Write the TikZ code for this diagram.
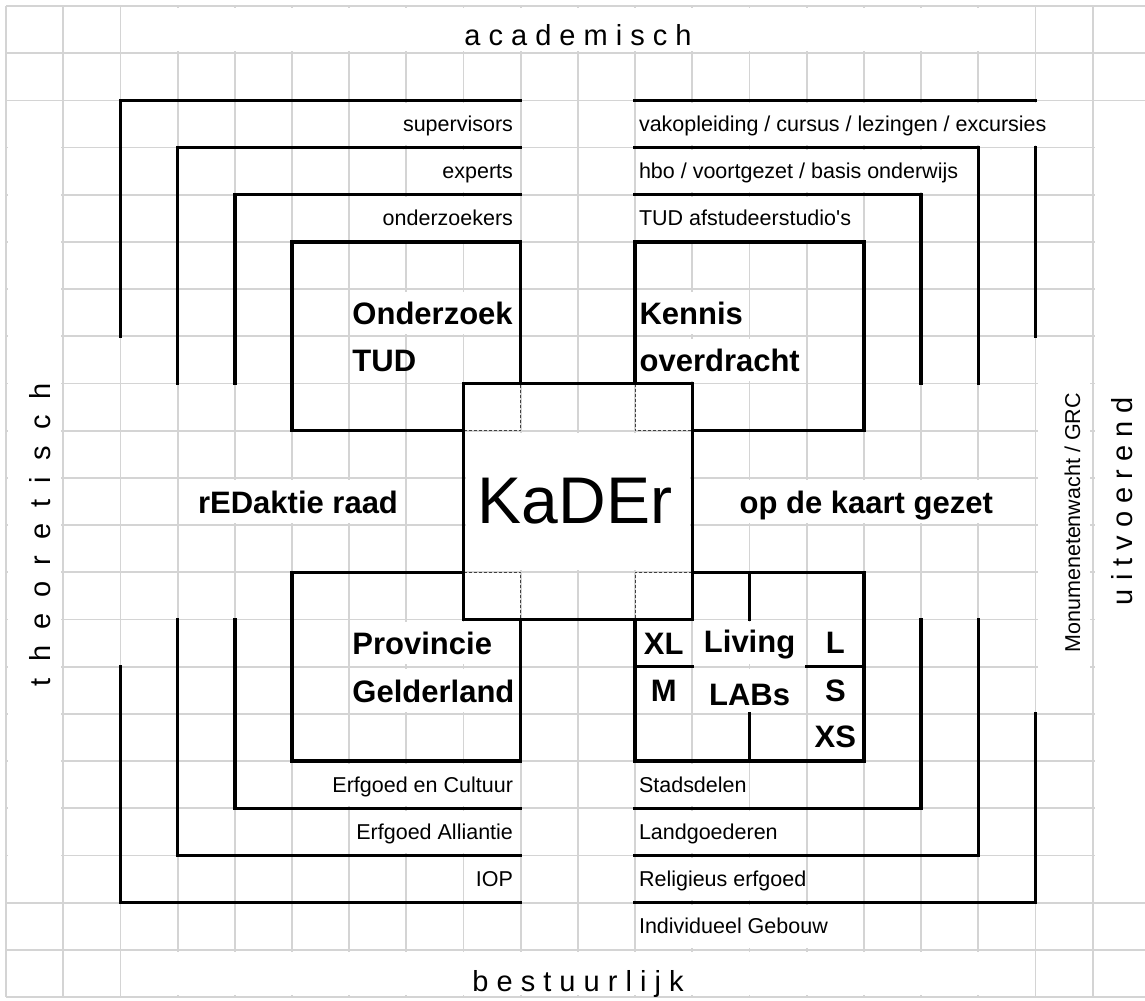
\documentclass[tikz,border=0pt]{standalone}
\usepackage{fontspec}
\setmainfont{Liberation Sans}
\definecolor{gridgray}{RGB}{212,212,212}

\begin{document}
\begin{tikzpicture}[x=28.6pt,y=-23.6pt,
  gridline/.style={gridgray,line width=0.9pt},
  border/.style={black,line width=1.7pt,line cap=rect},
  overlap/.style={black!75,line width=0.6pt,dash pattern=on 1.5pt off 1pt},
  small/.style={inner sep=0pt,font=\fontsize{10.75}{12}\selectfont},
  bold/.style={inner sep=0pt,font=\fontsize{15.5}{18}\selectfont\bfseries},
  axis/.style={inner sep=0pt,font=\fontsize{14.5}{17}\selectfont}]
\useasboundingbox (-0.105,-0.127) rectangle (19.913,21.08);
\fill [white] (-0.105,-0.127) rectangle (19.913,21.08);
\foreach \c in {0,...,20} \draw [gridline] (\c,0) -- (\c,21);
\foreach \r in {0,...,21} \draw [gridline] (0,\r) -- (20,\r);
\foreach \xa/\ya/\xb/\yb in {2/0/18/1, 2/20/18/21, 0/2/1/19, 19/2/20/19, 18/7/19/15, 8/9/12/12,
    6/2/9/3, 11/2/19/3, 7/3/9/4, 11/3/17/4, 6/4/9/5, 11/4/15/5,
    6/6/9/7, 11/6/13/7, 11/7/14/8, 3/10/7/11, 12/10/18/11,
    6/13/9/14, 12/13/14/14, 6/14/9/15, 12/14/14/15,
    5/16/9/17, 11/16/13/17, 6/17/9/18, 11/17/14/18, 11/18/14/19, 11/19/15/20}
  \fill [white] (\xa+0.04,\ya+0.05) rectangle (\xb-0.04,\yb-0.05);
\draw [border] (9,2) -- (2,2) -- (2,7);
\draw [border] (9,3) -- (3,3) -- (3,8);
\draw [border] (9,4) -- (4,4) -- (4,8);
\draw [border] (11,2) -- (18,2);
\draw [border] (18,3) -- (18,7);
\draw [border] (11,3) -- (17,3) -- (17,8);
\draw [border] (11,4) -- (16,4) -- (16,8);
\draw [border] (2,14) -- (2,19) -- (9,19);
\draw [border] (3,13) -- (3,18) -- (9,18);
\draw [border] (4,13) -- (4,17) -- (9,17);
\draw [border] (11,17) -- (16,17) -- (16,13);
\draw [border] (11,18) -- (17,18) -- (17,13);
\draw [border] (11,19) -- (18,19) -- (18,15);
\draw [border] (8,9) -- (5,9) -- (5,5) -- (9,5) -- (9,8);
\draw [overlap] (8,9) -- (9,9) -- (9,8);
\draw [border] (11,8) -- (11,5) -- (15,5) -- (15,9) -- (12,9);
\draw [overlap] (11,8) -- (11,9) -- (12,9);
\draw [border] (8,12) -- (5,12) -- (5,16) -- (9,16) -- (9,13);
\draw [overlap] (8,12) -- (9,12) -- (9,13);
\draw [border] (12,12) -- (15,12) -- (15,16) -- (11,16) -- (11,13);
\draw [overlap] (12,12) -- (11,12) -- (11,13);
\draw [border] (13,12) -- (13,13);
\draw [border] (13,15) -- (13,16);
\draw [border] (11,14) -- (12,14);
\draw [border] (14,14) -- (15,14);
\draw [border] (8,8) rectangle (12,13);
\node [inner sep=0pt,font=\fontsize{33}{40}\selectfont] (kader) at (9.95,10.5) {KaDEr};
\node [axis,anchor=base] (academisch) at (10,0.83) {a c a d e m i s c h};
\node [axis,anchor=base] (bestuurlijk) at (10,20.88) {b e s t u u r l i j k};
\node [axis,anchor=base,rotate=90] (theoretisch) at (0.77,11.2) {t\ \ h\ \ e\ \ o\ \ r\ \ e\ \ t\ \ i\ \ s\ \ c\ \ h};
\node [axis,anchor=base,rotate=90] (uitvoerend) at (19.70,10.49) {u i t v o e r e n d};
\node [small,anchor=base,rotate=90] (monumentenwacht) at (18.78,10.95) {Monumenetenwacht / GRC};
\node [small,anchor=base east] (supervisors) at (8.87,2.66) {supervisors};
\node [small,anchor=base east] (experts) at (8.87,3.66) {experts};
\node [small,anchor=base east] (onderzoekers) at (8.87,4.66) {onderzoekers};
\node [small,anchor=base west] (vakopleiding) at (11.06,2.66) {vakopleiding / cursus / lezingen / excursies};
\node [small,anchor=base west] (hbo) at (11.06,3.66) {hbo / voortgezet / basis onderwijs};
\node [small,anchor=base west] (studios) at (11.06,4.66) {TUD afstudeerstudio\textquotesingle s};
\node [small,anchor=base east] (cultuur) at (8.87,16.66) {Erfgoed en Cultuur};
\node [small,anchor=base east] (alliantie) at (8.87,17.66) {Erfgoed Alliantie};
\node [small,anchor=base east] (iop) at (8.87,18.66) {IOP};
\node [small,anchor=base west] (stadsdelen) at (11.06,16.66) {Stadsdelen};
\node [small,anchor=base west] (landgoederen) at (11.06,17.66) {Landgoederen};
\node [small,anchor=base west] (religieus) at (11.06,18.66) {Religieus erfgoed};
\node [small,anchor=base west] (gebouw) at (11.06,19.66) {Individueel Gebouw};
\node [bold,anchor=base west] (onderzoek) at (6.05,6.75) {Onderzoek};
\node [bold,anchor=base west] (tud) at (6.05,7.75) {TUD};
\node [bold,anchor=base west] (kennis) at (11.07,6.75) {Kennis};
\node [bold,anchor=base west] (overdracht) at (11.07,7.75) {overdracht};
\node [bold,anchor=base east] (redaktie) at (6.86,10.75) {rEDaktie raad};
\node [bold,anchor=base] (kaart) at (15.04,10.75) {op de kaart gezet};
\node [bold,anchor=base west] (provincie) at (6.05,13.75) {Provincie};
\node [bold,anchor=base west] (gelderland) at (6.05,14.75) {Gelderland};
\node [bold,anchor=base] (xl) at (11.5,13.74) {XL};
\node [bold,anchor=base] (living) at (13,13.7) {Living};
\node [bold,anchor=base] (sizel) at (14.5,13.72) {L};
\node [bold,anchor=base] (sizem) at (11.5,14.74) {M};
\node [bold,anchor=base] (labs) at (13,14.82) {LABs};
\node [bold,anchor=base] (sizes) at (14.5,14.74) {S};
\node [bold,anchor=base] (xs) at (14.5,15.72) {XS};
\end{tikzpicture}
\end{document}
